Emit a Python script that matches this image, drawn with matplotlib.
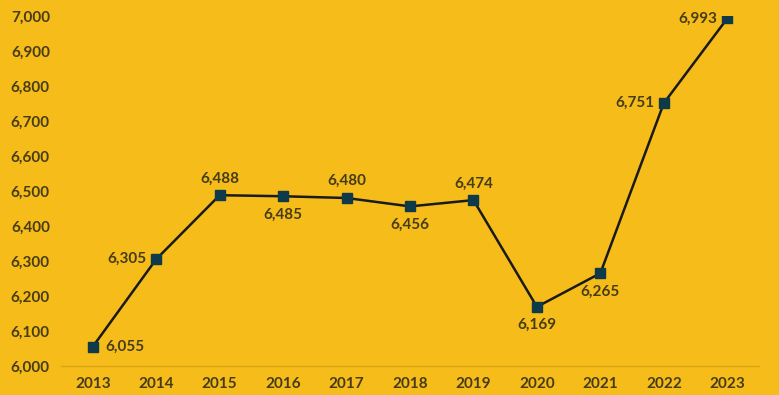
import matplotlib.pyplot as plt
from matplotlib.ticker import FuncFormatter

years = [2013, 2014, 2015, 2016, 2017, 2018, 2019, 2020, 2021, 2022, 2023]
values = [6055, 6305, 6488, 6485, 6480, 6456, 6474, 6169, 6265, 6751, 6993]
# where each data label sits relative to its point
label_pos = ['right', 'left', 'above', 'below', 'above', 'below',
             'above', 'below', 'below', 'left', 'left']

bg = '#F5BC1A'
text_col = '#463C16'
plt.rcParams['font.family'] = ['Lato', 'DejaVu Sans']
fs = 11

fig = plt.figure(figsize=(7.79, 3.95), dpi=100, facecolor=bg)
ax = fig.add_axes([61 / 779, 29 / 395, 698 / 779, 350 / 395], facecolor=bg)

x = list(range(len(years)))
ax.plot(x, values, color='#1A1A1A', lw=1.8, marker='s', markersize=7,
        markerfacecolor='#0E3A4A', markeredgecolor='#0E3A4A', zorder=3)

for xi, v, pos in zip(x, values, label_pos):
    txt = f'{v:,}'
    if pos == 'right':
        ax.annotate(txt, (xi, v), xytext=(9, 0), textcoords='offset points',
                    ha='left', va='center', fontsize=fs, fontweight='bold', color=text_col)
    elif pos == 'left':
        ax.annotate(txt, (xi, v), xytext=(-7, 0), textcoords='offset points',
                    ha='right', va='center', fontsize=fs, fontweight='bold', color=text_col)
    elif pos == 'above':
        ax.annotate(txt, (xi, v), xytext=(0, 7), textcoords='offset points',
                    ha='center', va='bottom', fontsize=fs, fontweight='bold', color=text_col)
    else:
        ax.annotate(txt, (xi, v), xytext=(0, -8), textcoords='offset points',
                    ha='center', va='top', fontsize=fs, fontweight='bold', color=text_col)

ax.set_xlim(-0.5, len(years) - 0.5)
ax.set_ylim(6000, 7000)
ax.set_xticks(x)
ax.set_xticklabels([str(y) for y in years])
ax.set_yticks(range(6000, 7001, 100))
ax.yaxis.set_major_formatter(FuncFormatter(lambda v, p: f'{int(v):,}'))
ax.tick_params(length=0, labelsize=fs, labelcolor=text_col, pad=8)
for lab in ax.get_xticklabels() + ax.get_yticklabels():
    lab.set_fontweight('bold')

for side in ['top', 'right', 'left']:
    ax.spines[side].set_visible(False)
ax.spines['bottom'].set_color('#D9A414')
ax.spines['bottom'].set_linewidth(1)

fig.savefig('out.png', dpi=100, facecolor=bg)
